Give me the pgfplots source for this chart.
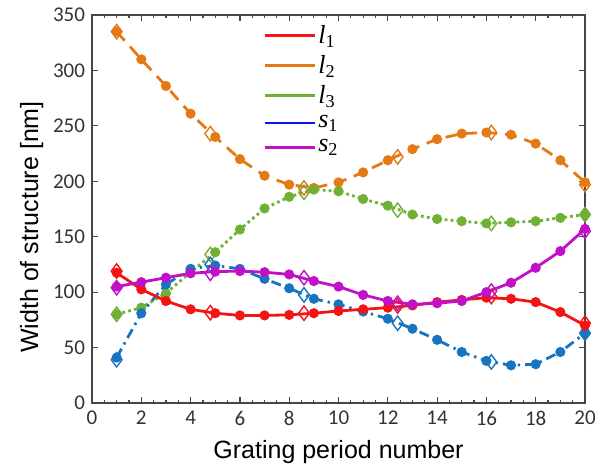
\documentclass[border=0pt]{standalone}
\usepackage{fontspec}
\setmainfont{Liberation Sans}
\newfontfamily\tickfont{Carlito}
\newfontfamily\legfont{Liberation Serif}
\usepackage{pgfplots}
\pgfplotsset{compat=1.18}

\definecolor{cl1}{RGB}{245,20,20}
\definecolor{cl2}{RGB}{228,122,22}
\definecolor{cl3}{RGB}{112,176,52}
\definecolor{cs1}{RGB}{22,116,192}
\definecolor{cs1leg}{RGB}{10,20,240}
\definecolor{cs2}{RGB}{192,16,200}
\definecolor{axgray}{RGB}{70,70,70}

\newcommand{\lab}[2]{{\legfont\textit{#1}\textsubscript{#2}}}

\begin{document}
\begin{tikzpicture}
\useasboundingbox (-46pt,-33.5pt) rectangle (256.5pt,201.5pt);
\begin{axis}[
    scale only axis,
    width=246.5pt, height=194pt,
    xmin=0, xmax=20, ymin=0, ymax=350,
    xtick={0,2,...,20}, ytick={0,50,...,350},
    minor x tick num=3,
    tick align=inside,
    major tick length=3pt, minor tick length=1.6pt,
    axis line style={axgray, line width=0.7pt},
    every tick/.style={axgray, line width=0.6pt},
    /pgf/number format/assume math mode=true,
    ticklabel style={font=\tickfont\fontsize{10.5}{12}\selectfont, text=black!80},
    xticklabel style={yshift=-0.5pt},
    xlabel={Grating period number},
    ylabel={Width of structure [nm]},
    label style={font=\fontsize{12.5}{14}\selectfont},
    xlabel style={yshift=-0.5pt},
    ylabel style={yshift=-2pt, xshift=-9pt},
    legend cell align=left,
    legend style={draw=none, fill=none, at={(0.335,0.99)}, anchor=north west,
        font=\fontsize{13}{14}\selectfont, row sep=2.5pt,
        nodes={inner sep=1pt}},
    legend image code/.code={\draw[#1, line width=1.4pt] (0pt,0pt) -- (25pt,0pt);},
    every axis plot/.append style={line width=1.4pt},
]
% legend entries
\addlegendimage{cl1}
\addlegendentry{\lab{l}{1}}
\addlegendimage{cl2}
\addlegendentry{\lab{l}{2}}
\addlegendimage{cl3}
\addlegendentry{\lab{l}{3}}
\addlegendimage{cs1leg}
\addlegendentry{\lab{s}{1}}
\addlegendimage{cs2}
\addlegendentry{\lab{s}{2}}

% l2
\addplot[cl2, dash pattern=on 6pt off 4pt, mark=*, mark size=1.8pt, mark options={solid}, forget plot] coordinates {
(1,335) (2,310) (3,286) (4,261) (5,240) (6,220) (7,205) (8,197) (9,194) (10,199)
(11,208) (12,219) (13,229) (14,238) (15,243) (16,244) (17,242) (18,234) (19,219) (20,199)};
\addplot[cl2, only marks, mark=diamond, mark size=3.6pt, mark options={line width=0.7pt, solid}, forget plot] coordinates {
(1,335) (4.8,243) (8.6,194) (12.4,222) (16.2,244) (20,197)};
% l3
\addplot[cl3, dash pattern=on 1.4pt off 1.6pt, mark=*, mark size=1.8pt, mark options={solid}, forget plot] coordinates {
(1,80) (2,86) (3,99) (4,118) (5,136) (6,156.5) (7,175.5) (8,186) (9,192.5) (10,191)
(11,184) (12,178) (13,170) (14,166) (15,164) (16,162) (17,163) (18,164) (19,167) (20,170)};
\addplot[cl3, only marks, mark=diamond, mark size=3.6pt, mark options={line width=0.7pt, solid}, forget plot] coordinates {
(1,80) (4.8,134) (8.6,190) (12.4,174) (16.2,162) (20,170)};
% s1
\addplot[cs1, dash pattern=on 5pt off 2.5pt on 1.2pt off 2.5pt, mark=*, mark size=1.8pt, mark options={solid}, forget plot] coordinates {
(1,41) (2,81) (3,107) (4,121) (5,124) (6,121) (7,112) (8,103.5) (9,94) (10,89)
(11,82.5) (12,76) (13,67) (14,57) (15,46) (16,38) (17,34) (18,35) (19,46) (20,63)};
\addplot[cs1, only marks, mark=diamond, mark size=3.6pt, mark options={line width=0.7pt, solid}, forget plot] coordinates {
(1,39) (4.8,125) (8.6,97.5) (12.4,72) (16.2,37) (20,63)};
% l1
\addplot[cl1, solid, mark=*, mark size=1.8pt, forget plot] coordinates {
(1,117.5) (2,102.5) (3,92) (4,84.5) (5,81) (6,79) (7,79) (8,79.5) (9,81) (10,83)
(11,84.5) (12,86) (13,88) (14,91) (15,93) (16,95) (17,94) (18,91) (19,82) (20,70)};
\addplot[cl1, only marks, mark=diamond, mark size=3.6pt, mark options={line width=0.7pt}, forget plot] coordinates {
(1,119) (4.8,81.5) (8.6,81) (12.4,87.5) (16.2,96) (20,72)};
% s2
\addplot[cs2, solid, mark=*, mark size=1.8pt, forget plot] coordinates {
(1,105) (2,109) (3,113) (4,117) (5,118.5) (6,119) (7,118) (8,116) (9,110) (10,105)
(11,97.5) (12,92) (13,89) (14,90) (15,92) (16,100) (17,108.5) (18,122) (19,137) (20,157)};
\addplot[cs2, only marks, mark=diamond, mark size=3.6pt, mark options={line width=0.7pt}, forget plot] coordinates {
(1,104) (4.8,117) (8.6,113) (12.4,90) (16.2,101) (20,155)};
\end{axis}
\end{tikzpicture}
\end{document}
